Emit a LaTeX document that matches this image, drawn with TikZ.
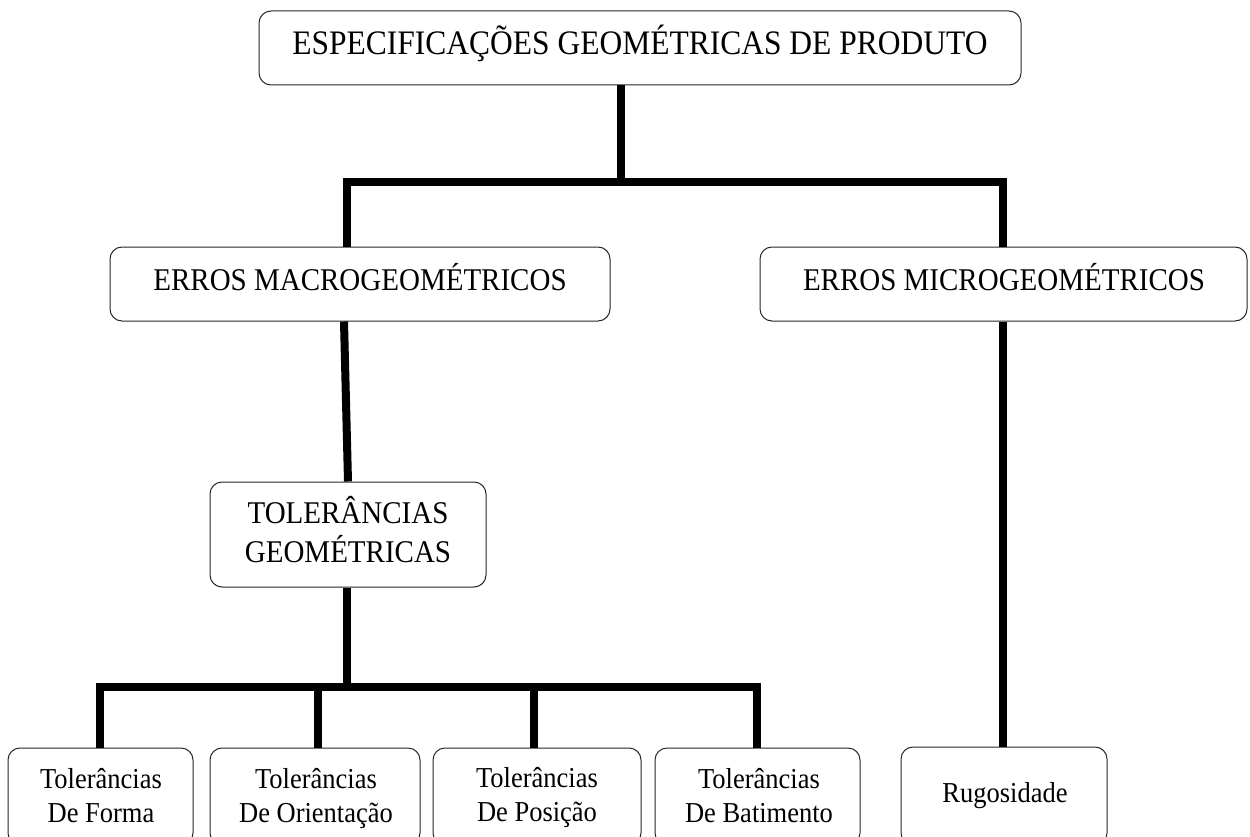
\documentclass[tikz,border=0pt]{standalone}
\usepackage{graphicx}
\usepackage{fontspec}
\setmainfont{Liberation Serif}
\newcommand\tallbox[1]{\scalebox{1}[1.09]{#1}}
\begin{document}
\begin{tikzpicture}[x=1pt,y=-1pt,
  box/.style={draw=black!85, line width=1pt, rounded corners=12pt, inner sep=0pt},
  conn/.style={line width=8pt, black, line join=miter},
  bigtxt/.style={font=\fontsize{31.5}{38}\selectfont, inner sep=0pt, anchor=base},
  midtxt/.style={font=\fontsize{29}{35.8}\selectfont, inner sep=0pt, anchor=base},
  smalltxt/.style={font=\fontsize{26.5}{31.2}\selectfont, inner sep=0pt, anchor=base}]
\useasboundingbox (0,0) rectangle (1250,837);
\clip (0,0) rectangle (1250,837);

% boxes
\node[box, minimum width=762pt, minimum height=74pt] (top) at (640,48) {};
\node[box, minimum width=500pt, minimum height=74pt] (macro) at (360,284) {};
\node[box, minimum width=487pt, minimum height=74pt] (micro) at (1003.5,284) {};
\node[box, minimum width=276pt, minimum height=105pt] (tol) at (348,534.5) {};
\node[box, minimum width=185pt, minimum height=97pt] (b1) at (100.5,796.5) {};
\node[box, minimum width=210pt, minimum height=97pt] (b2) at (315,796.5) {};
\node[box, minimum width=208pt, minimum height=97pt] (b3) at (537,796.5) {};
\node[box, minimum width=205pt, minimum height=97pt] (b4) at (757.5,796.5) {};
\node[box, minimum width=206pt, minimum height=98pt] (rug) at (1004,796) {};

% texts
\node[bigtxt] (ttop) at (640,55) {\tallbox{ESPECIFICAÇÕES GEOMÉTRICAS DE PRODUTO}};
\node[midtxt] (tmacro) at (360,290) {\tallbox{ERROS MACROGEOMÉTRICOS}};
\node[midtxt] (tmicro) at (1004,290) {\tallbox{ERROS MICROGEOMÉTRICOS}};
\node[midtxt] (ttol) at (348,523) {\tallbox{\begin{tabular}[t]{@{}c@{}}TOLERÂNCIAS\\GEOMÉTRICAS\end{tabular}}};
\node[smalltxt] (tb1) at (101,788) {\tallbox{\begin{tabular}[t]{@{}c@{}}Tolerâncias\\De Forma\end{tabular}}};
\node[smalltxt] (tb2) at (316,788) {\tallbox{\begin{tabular}[t]{@{}c@{}}Tolerâncias\\De Orientação\end{tabular}}};
\node[smalltxt] (tb3) at (537,787) {\tallbox{\begin{tabular}[t]{@{}c@{}}Tolerâncias\\De Posição\end{tabular}}};
\node[smalltxt] (tb4) at (759,788) {\tallbox{\begin{tabular}[t]{@{}c@{}}Tolerâncias\\De Batimento\end{tabular}}};
\node[smalltxt] (trug) at (1005,802) {\tallbox{Rugosidade}};

% junction points
\coordinate (J0) at (621,182);
\coordinate (JL) at (347,182);
\coordinate (JR) at (1003,182);
\coordinate (M1) at (344,321);
\coordinate (J1) at (347,687);
\coordinate (K1) at (100,687);
\coordinate (K2) at (318,687);
\coordinate (K3) at (534,687);
\coordinate (K4) at (757,687);

% connectors
\draw[conn] (top.south -| J0) -- (J0);
\draw[conn] (macro.north -| JL) -- (JL) -- (JR) -- (micro.north -| JR);
\draw[conn] (macro.south -| M1) -- (tol.north);
\draw[conn] (tol.south -| J1) -- (J1);
\draw[conn] (b1.north -| K1) -- (K1) -- (K4) -- (b4.north -| K4);
\draw[conn] (K2) -- (b2.north -| K2);
\draw[conn] (K3) -- (b3.north -| K3);
\draw[conn] (micro.south -| JR) -- (rug.north -| JR);
\end{tikzpicture}
\end{document}
